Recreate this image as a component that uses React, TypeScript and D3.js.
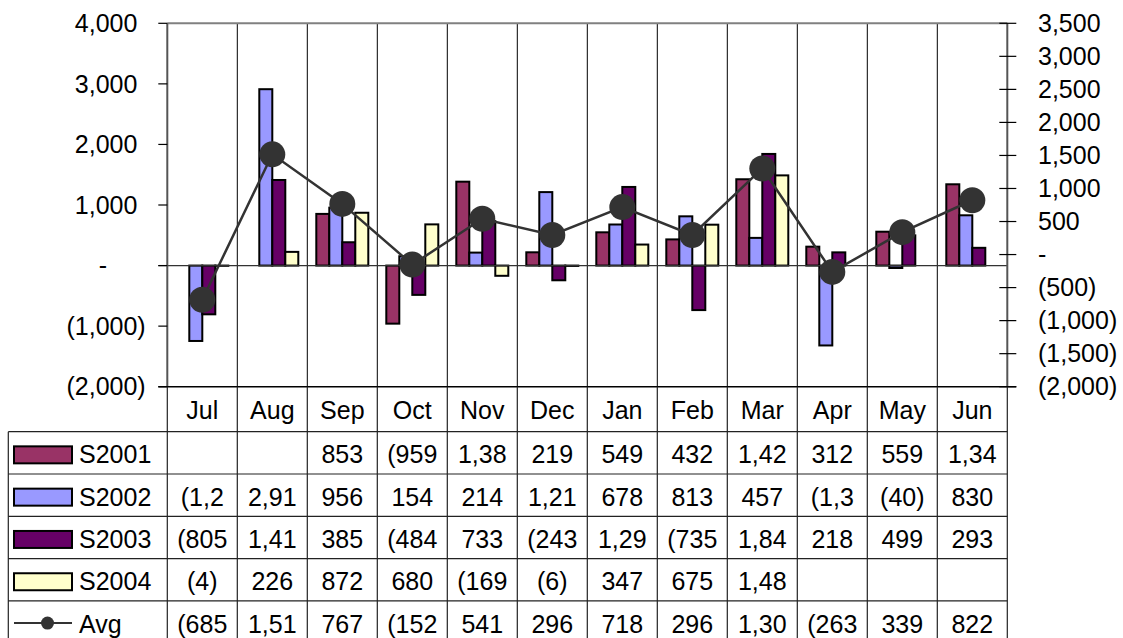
import React from "react";
import * as d3 from "d3";

const months = ["Jul", "Aug", "Sep", "Oct", "Nov", "Dec", "Jan", "Feb", "Mar", "Apr", "May", "Jun"];
const s2001 = [null, null, 853, -959, 1385, 219, 549, 432, 1425, 312, 559, 1342];
const s2002 = [-1245, 2912, 956, 154, 214, 1213, 678, 813, 457, -1319, -40, 830];
const s2003 = [-805, 1413, 385, -484, 733, -243, 1298, -735, 1843, 218, 499, 293];
const s2004 = [-4, 226, 872, 680, -169, -6, 347, 675, 1489, null, null, null];
const avg = [-685, 1517, 767, -152, 541, 296, 718, 296, 1303, -263, 339, 822];
const leftTicks = [-2000, -1000, 0, 1000, 2000, 3000, 4000];
const rightTicks = [-2000, -1500, -1000, -500, 0, 500, 1000, 1500, 2000, 2500, 3000, 3500];

const barSeries = [
  { name: "S2001", values: s2001, color: "#993366" },
  { name: "S2002", values: s2002, color: "#9999FF" },
  { name: "S2003", values: s2003, color: "#660066" },
  { name: "S2004", values: s2004, color: "#FFFFCC" },
];

const FONT = "'Liberation Sans', Arial, sans-serif";
const FS = 25;

// plot area
const left = 167.3;
const right = 1007.3;
const top = 23.3;
const bottom = 386.7;

// table rows
const headerTop = 386.7;
const rowTop = 431.7;
const rowH = 42.3;
const tableLeft = 8.3;

const num = d3.format(",");
const fmt = (v: number) => (v === 0 ? "-" : v < 0 ? `(${num(-v)})` : num(v));

// character widths for Arial, used to cut the data table text like Excel does
const cw: Record<string, number> = { ",": 0.278, "(": 0.333, ")": 0.333, "-": 0.333 };
const textW = (s: string) => s.split("").reduce((a, c) => a + (cw[c] ?? 0.556), 0) * FS;
const fit = (s: string) => {
  let t = s;
  while (t.length > 1 && textW(t) > 54) t = t.slice(0, -1);
  return t;
};

export default function App() {
  const x = d3.scaleBand().domain(months).range([left, right]).padding(0);
  const inner = d3
    .scaleBand()
    .domain(barSeries.map((s) => s.name))
    .range([9, x.bandwidth() - 9]);
  const yL = d3.scaleLinear().domain([-2000, 4000]).range([bottom, top]);
  const yR = d3.scaleLinear().domain([-2000, 3500]).range([bottom, top]);

  const line = d3
    .line<number>()
    .x((_, i) => x(months[i])! + x.bandwidth() / 2)
    .y((d) => yR(d));

  const tableRows = [...barSeries.map((s) => ({ name: s.name, values: s.values })), { name: "Avg", values: avg }];

  return (
    <svg
      width={1123}
      height={638}
      style={{ position: "absolute", left: 0, top: 0, background: "#fff" }}
      fontFamily={FONT}
      fontSize={FS}
    >
      {/* category grid */}
      {months.slice(1).map((m) => (
        <line key={m} x1={x(m)} x2={x(m)} y1={top} y2={bottom} stroke="#000" strokeWidth={1} />
      ))}
      {/* top border */}
      <line x1={left} x2={right} y1={top} y2={top} stroke="#808080" strokeWidth={2} />

      {/* bars */}
      {barSeries.map((s) =>
        s.values.map((v, i) =>
          v == null ? null : (
            <rect
              key={s.name + i}
              x={x(months[i])! + inner(s.name)!}
              width={inner.bandwidth()}
              y={Math.min(yL(v), yL(0))}
              height={Math.abs(yL(v) - yL(0))}
              fill={s.color}
              stroke="#000"
              strokeWidth={2}
            />
          )
        )
      )}

      {/* zero line */}
      <line x1={left - 9} x2={right} y1={yL(0)} y2={yL(0)} stroke="#333" strokeWidth={1.2} />

      {/* left axis */}
      <line x1={left} x2={left} y1={top} y2={bottom} stroke="#555" strokeWidth={2} />
      {leftTicks.map((t) => (
        <g key={t}>
          <line x1={left - 9} x2={left} y1={yL(t)} y2={yL(t)} stroke="#000" strokeWidth={1.2} />
          <text
            x={t === 0 ? 107 : t < 0 ? 145.7 : 137.4}
            y={yL(t)}
            dy="0.35em"
            textAnchor="end"
          >
            {fmt(t)}
          </text>
        </g>
      ))}

      {/* right axis */}
      <line x1={right} x2={right} y1={top} y2={bottom} stroke="#555" strokeWidth={2} />
      {rightTicks.map((t) => (
        <g key={t}>
          <line x1={right - 8} x2={right + 9} y1={yR(t)} y2={yR(t)} stroke="#000" strokeWidth={1.2} />
          <text x={1038} y={yR(t)} dy="0.35em" textAnchor="start">
            {fmt(t)}
          </text>
        </g>
      ))}

      {/* bottom axis line */}
      <line x1={left - 9} x2={right + 9} y1={bottom} y2={bottom} stroke="#000" strokeWidth={1.5} />

      {/* avg line */}
      <path d={line(avg) ?? ""} fill="none" stroke="#333" strokeWidth={2.5} />
      {avg.map((v, i) => (
        <circle key={i} cx={x(months[i])! + x.bandwidth() / 2} cy={yR(v)} r={13} fill="#333" />
      ))}

      {/* data table */}
      {months.map((m) => (
        <text key={m} x={x(m)! + x.bandwidth() / 2} y={(headerTop + rowTop) / 2} dy="0.38em" textAnchor="middle">
          {m}
        </text>
      ))}
      {[left, ...months.slice(1).map((m) => x(m)!), right].map((xx, i) => (
        <line key={"v" + i} x1={xx} x2={xx} y1={bottom} y2={638} stroke="#222" strokeWidth={1.2} />
      ))}
      <line x1={tableLeft} x2={tableLeft} y1={rowTop} y2={638} stroke="#222" strokeWidth={1.2} />
      {tableRows.map((_, i) => (
        <line
          key={"h" + i}
          x1={tableLeft}
          x2={right}
          y1={rowTop + i * rowH}
          y2={rowTop + i * rowH}
          stroke="#222"
          strokeWidth={1.2}
        />
      ))}
      {tableRows.map((r, i) => {
        const cy = rowTop + i * rowH + rowH / 2;
        const s = barSeries.find((b) => b.name === r.name);
        return (
          <g key={r.name}>
            {s ? (
              <rect x={14} y={cy - 6.5} width={58} height={17} fill={s.color} stroke="#000" strokeWidth={2} />
            ) : (
              <g>
                <line x1={14} x2={72} y1={cy + 1} y2={cy + 1} stroke="#333" strokeWidth={2} />
                <circle cx={47.5} cy={cy + 1} r={6.5} fill="#333" />
              </g>
            )}
            <text x={79} y={cy} dy="0.42em">
              {r.name}
            </text>
            {r.values.map((v, j) =>
              v == null ? null : (
                <text
                  key={j}
                  x={x(months[j])! + x.bandwidth() / 2}
                  y={cy}
                  dy="0.42em"
                  textAnchor="middle"
                >
                  {fit(fmt(v))}
                </text>
              )
            )}
          </g>
        );
      })}
    </svg>
  );
}
